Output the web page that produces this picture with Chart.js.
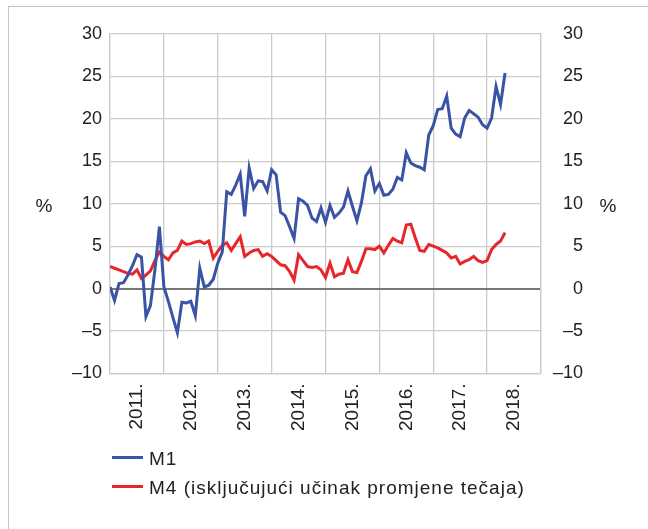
<!DOCTYPE html>
<html>
<head>
<meta charset="utf-8">
<script src="https://cdn.jsdelivr.net/npm/chart.js@4.4.1/dist/chart.umd.min.js"></script>
<style>
  html, body { margin: 0; padding: 0; background: #fff; }
  #wrap { position: relative; width: 648px; height: 529px; font-family: "Liberation Sans", Arial, sans-serif; }
  #frame { position: absolute; left: 8px; top: 6px; right: 0; bottom: 0; border-top: 1px solid #c4c4c4; border-left: 1px solid #c4c4c4; }
  #chart { position: absolute; left: 0; top: 0; }
  .legend { position: absolute; left: 112px; font-size: 19px; letter-spacing: 1px; color: #222; line-height: 22px; }
  .legend span.swatch { display: inline-block; width: 31px; height: 3px; vertical-align: middle; margin-right: 6px; position: relative; top: -2px; }
</style>
</head>
<body>
<div id="wrap">
  <div id="frame"></div>
  <canvas id="chart" width="648" height="529"></canvas>
  <div class="legend" style="top:448px"><span class="swatch" style="background:#3a53a4"></span>M1</div>
  <div class="legend" style="top:477px"><span class="swatch" style="background:#e8262a"></span>M4 (isključujući učinak promjene tečaja)</div>
</div>
<script>
  // monthly data, Jan 2011 .. May 2018
  const years = ['2011.', '2012.', '2013.', '2014.', '2015.', '2016.', '2017.', '2018.'];
  const yTicks = [-10, -5, 0, 5, 10, 15, 20, 25, 30];

  const m1 = [
    0.2, -1.4, 0.6, 0.7, 1.6, 2.7, 4.0, 3.7, -3.3, -2.0, 2.2, 7.3,
    0.2, -1.5, -3.4, -5.2, -1.6, -1.7, -1.5, -3.2, 2.4, 0.2, 0.4, 1.1,
    3.0, 4.3, 11.4, 11.1, 12.2, 13.5, 8.5, 14.2, 11.8, 12.7, 12.6, 11.5,
    14.0, 13.4, 9.0, 8.6, 7.3, 5.9, 10.6, 10.3, 9.8, 8.3, 7.9, 9.5,
    7.8, 9.8, 8.4, 8.9, 9.6, 11.5, 9.7, 8.0, 10.1, 13.3, 14.1, 11.5,
    12.4, 11.0, 11.1, 11.7, 13.1, 12.8, 16.0, 14.8, 14.5, 14.3, 14.0, 18.1,
    19.2, 21.1, 21.2, 22.7, 18.9, 18.2, 17.9, 20.1, 21.0, 20.6, 20.2, 19.3,
    18.9, 20.1, 23.8, 21.7, 25.4
  ];

  const m4 = [
    2.6, 2.4, 2.2, 2.0, 1.8, 1.7, 2.2, 1.2, 1.6, 2.1, 3.3, 4.3,
    3.8, 3.4, 4.2, 4.5, 5.6, 5.2, 5.3, 5.5, 5.6, 5.3, 5.6, 3.6,
    4.4, 5.1, 5.4, 4.5, 5.3, 6.1, 3.8, 4.2, 4.5, 4.6, 3.8, 4.1,
    3.8, 3.3, 2.8, 2.7, 2.0, 1.0, 4.0, 3.3, 2.6, 2.5, 2.6, 2.2,
    1.3, 3.0, 1.4, 1.7, 1.8, 3.4, 2.0, 1.9, 3.2, 4.7, 4.7, 4.6,
    5.0, 4.2, 5.1, 5.9, 5.6, 5.4, 7.5, 7.6, 6.0, 4.5, 4.4, 5.2,
    5.0, 4.8, 4.5, 4.2, 3.6, 3.8, 2.9, 3.2, 3.4, 3.8, 3.3, 3.1,
    3.3, 4.6, 5.2, 5.6, 6.6
  ];

  const tickFont = { family: '"Liberation Sans", Arial, sans-serif', size: 18 };
  const dash = v => String(v).replace('-', '\u2013');

  const percentLabels = {
    id: 'percentLabels',
    afterDraw(chart) {
      const ctx = chart.ctx;
      const y = chart.scales.y.getPixelForValue(10);
      ctx.save();
      ctx.font = '19px "Liberation Sans", Arial, sans-serif';
      ctx.fillStyle = '#222';
      ctx.textAlign = 'center';
      ctx.textBaseline = 'middle';
      ctx.fillText('%', 44, y + 3);
      ctx.fillText('%', 608, y + 3);
      ctx.restore();
    }
  };

  const toPoints = arr => arr.map((v, i) => ({ x: i, y: v }));

  new Chart(document.getElementById('chart'), {
    type: 'line',
    data: {
      datasets: [
        {
          label: 'M1',
          data: toPoints(m1),
          borderColor: '#3a53a4',
          borderWidth: 3,
          pointRadius: 0,
          tension: 0,
          yAxisID: 'y'
        },
        {
          label: 'M4 (isključujući učinak promjene tečaja)',
          data: toPoints(m4),
          borderColor: '#e8262a',
          borderWidth: 3,
          pointRadius: 0,
          tension: 0,
          yAxisID: 'y'
        }
      ]
    },
    options: {
      responsive: false,
      animation: false,
      layout: { padding: { left: 64, right: 65, top: 34, bottom: 88 } },
      plugins: {
        legend: { display: false },
        tooltip: { enabled: false }
      },
      scales: {
        x: {
          type: 'linear',
          min: 0,
          max: 96,
          afterBuildTicks: scale => {
            const t = [];
            for (let v = 0; v <= 96; v += 6) t.push({ value: v });
            scale.ticks = t;
          },
          // rotated empty end labels otherwise push the plot inwards
          afterFit: scale => { scale.paddingLeft = 0; scale.paddingRight = 0; },
          grid: {
            drawTicks: false,
            color: c => (c.tick && c.tick.value % 12 === 0) ? '#cccccc' : 'rgba(0,0,0,0)',
            lineWidth: 1.3
          },
          border: { color: '#cccccc', width: 1.3 },
          ticks: {
            autoSkip: false,
            minRotation: 90,
            maxRotation: 90,
            padding: 10,
            color: '#222',
            font: { family: tickFont.family, size: 19 },
            callback: v => (v % 12 === 6) ? years[(v - 6) / 12] : ''
          }
        },
        y: {
          position: 'left',
          min: -10,
          max: 30,
          afterBuildTicks: scale => { scale.ticks = yTicks.map(v => ({ value: v })); },
          grid: {
            drawTicks: false,
            color: c => (c.tick && c.tick.value === 0) ? '#777777' : '#cccccc',
            lineWidth: c => (c.tick && c.tick.value === 0) ? 2 : 1.3
          },
          border: { color: '#cccccc', width: 1.3 },
          ticks: { padding: 8, color: '#222', font: tickFont, callback: dash }
        },
        y2: {
          position: 'right',
          min: -10,
          max: 30,
          afterBuildTicks: scale => { scale.ticks = yTicks.map(v => ({ value: v })); },
          grid: { display: false, drawTicks: false },
          border: { color: '#cccccc', width: 1.3 },
          ticks: { padding: 6, crossAlign: 'far', color: '#222', font: tickFont, callback: dash }
        }
      }
    },
    plugins: [percentLabels]
  });
</script>
</body>
</html>
